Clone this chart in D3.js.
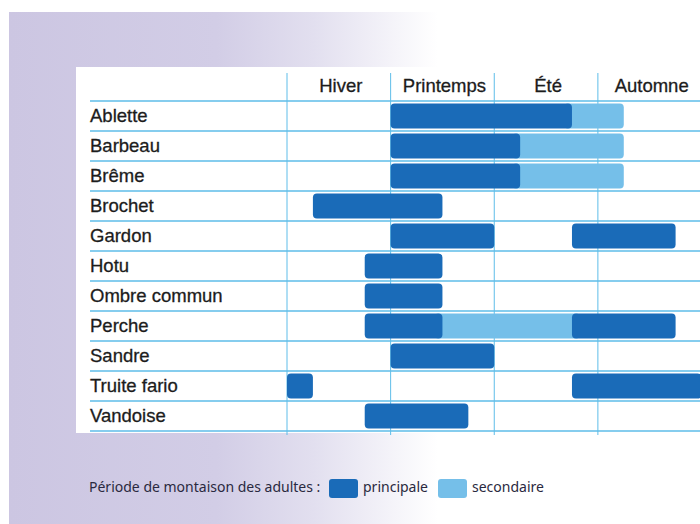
<!DOCTYPE html>
<html>
<head>
<meta charset="utf-8">
<script src="https://cdn.jsdelivr.net/npm/d3@7"></script>
<style>
  html, body { margin: 0; padding: 0; background: #fff; }
  svg { display: block; }
</style>
</head>
<body>
<svg id="chart" width="700" height="524"></svg>
<script>
// ---- data ----
const seasons = ["Hiver", "Printemps", "Été", "Automne"];
// time axis in quarter-season units: each season spans 4 units
const seasonStarts = [0, 4, 8, 12];
const species = ["Ablette", "Barbeau", "Brême", "Brochet", "Gardon", "Hotu",
                 "Ombre commun", "Perche", "Sandre", "Truite fario", "Vandoise"];
// periods: [species, start, end, type]
const periodSpecies = ["Ablette","Ablette","Barbeau","Barbeau","Brême","Brême","Brochet",
  "Gardon","Gardon","Hotu","Ombre commun","Perche","Perche","Perche","Sandre",
  "Truite fario","Truite fario","Vandoise"];
const periodStart = [4, 11, 4, 9, 4, 9, 1, 4, 11, 3, 3, 3, 6, 11, 4, 0, 11, 3];
const periodEnd   = [11, 13, 9, 13, 9, 13, 6, 8, 15, 6, 6, 6, 11, 15, 8, 1, 16, 7];
const periodType  = ["principale","secondaire","principale","secondaire","principale","secondaire",
  "principale","principale","principale","principale","principale","principale","secondaire",
  "principale","principale","principale","principale","principale"];
const legendTitle = "Période de montaison des adultes :";
const legendItems = ["principale", "secondaire"];

const periods = periodSpecies.map((s, i) => ({
  species: s, start: periodStart[i], end: periodEnd[i], type: periodType[i]
}));

// ---- drawing ----
const svg = d3.select("#chart");
const defs = svg.append("defs");
const grad = defs.append("linearGradient").attr("id", "bg")
  .attr("x1", "0").attr("x2", "1").attr("y1", "0").attr("y2", "0");
grad.append("stop").attr("offset", "0").attr("stop-color", "#ccc6e2");
grad.append("stop").attr("offset", "0.3").attr("stop-color", "#d2cde6");
grad.append("stop").attr("offset", "0.44").attr("stop-color", "#e2dfef");
grad.append("stop").attr("offset", "0.62").attr("stop-color", "#ffffff");
grad.append("stop").attr("offset", "1").attr("stop-color", "#ffffff");

svg.append("rect").attr("x", 9).attr("y", 12).attr("width", 691).attr("height", 512)
  .attr("fill", "url(#bg)");

// white panel
svg.append("rect").attr("x", 76).attr("y", 67).attr("width", 630).attr("height", 366)
  .attr("fill", "#ffffff");

const colors = { principale: "#1a6bb8", secondaire: "#75bfe9" };
const gridColor = "#5ebde9";
const textColor = "#1c1c1c";

const x = d3.scaleLinear().domain([0, 16]).range([287, 701.5]);
const y = d3.scaleBand().domain(species).range([101, 431]);

// horizontal lines (header separator + row separators)
const hLines = [y(species[0])].concat(species.map(s => y(s) + y.bandwidth()));
svg.append("g").selectAll("line").data(hLines).join("line")
  .attr("x1", 90).attr("x2", 700)
  .attr("y1", d => d).attr("y2", d => d)
  .attr("stroke", gridColor).attr("stroke-width", 1.4);

// vertical lines at season boundaries
svg.append("g").selectAll("line").data(seasonStarts).join("line")
  .attr("x1", d => x(d)).attr("x2", d => x(d))
  .attr("y1", 73).attr("y2", 435)
  .attr("stroke", gridColor).attr("stroke-width", 1);

const labelFont = "'Liberation Sans', Arial, sans-serif";

// season header labels
svg.append("g").selectAll("text").data(seasons).join("text")
  .attr("x", (d, i) => x(seasonStarts[i] + 2) + 2)
  .attr("y", 92)
  .attr("text-anchor", "middle")
  .attr("font-family", labelFont)
  .attr("font-size", 18.5)
  .attr("fill", textColor)
  .attr("stroke", textColor).attr("stroke-width", 0.3)
  .text(d => d);

// row labels
svg.append("g").selectAll("text").data(species).join("text")
  .attr("x", 90)
  .attr("y", d => y(d) + 21)
  .attr("font-family", labelFont)
  .attr("font-size", 18.5)
  .attr("fill", textColor)
  .attr("stroke", textColor).attr("stroke-width", 0.3)
  .text(d => d);

// bars: secondary first (extended beneath adjacent principal bars), principal on top
const pad = 2.5, rx = 4;
function touches(p, q) {
  return p.species === q.species && p.type !== q.type &&
         (p.start === q.end || p.end === q.start);
}
const bars = svg.append("g");
bars.selectAll("rect.sec").data(periods.filter(p => p.type === "secondaire")).join("rect")
  .attr("class", "sec")
  .attr("x", p => x(p.start) - (periods.some(q => touches(p, q) && q.end === p.start) ? 8 : 0))
  .attr("width", p => x(p.end) - x(p.start)
      + (periods.some(q => touches(p, q) && q.end === p.start) ? 8 : 0)
      + (periods.some(q => touches(p, q) && q.start === p.end) ? 8 : 0))
  .attr("y", p => y(p.species) + pad)
  .attr("height", y.bandwidth() - 2 * pad)
  .attr("rx", rx)
  .attr("fill", colors.secondaire);
bars.selectAll("rect.pri").data(periods.filter(p => p.type === "principale")).join("rect")
  .attr("class", "pri")
  .attr("x", p => x(p.start))
  .attr("width", p => x(p.end) - x(p.start))
  .attr("y", p => y(p.species) + pad)
  .attr("height", y.bandwidth() - 2 * pad)
  .attr("rx", rx)
  .attr("fill", colors.principale);

// legend
const lg = svg.append("g").attr("font-family", "'Noto Sans', 'Open Sans', sans-serif")
  .attr("font-size", 14).attr("fill", "#2a2940");
lg.append("text").attr("x", 89).attr("y", 492).text(legendTitle);
const legendX = [329, 438];
legendItems.forEach((k, i) => {
  lg.append("rect").attr("x", legendX[i]).attr("y", 479).attr("width", 29).attr("height", 19)
    .attr("rx", 3).attr("fill", colors[k]);
  lg.append("text").attr("x", legendX[i] + 34).attr("y", 492).text(k);
});
</script>
</body>
</html>
